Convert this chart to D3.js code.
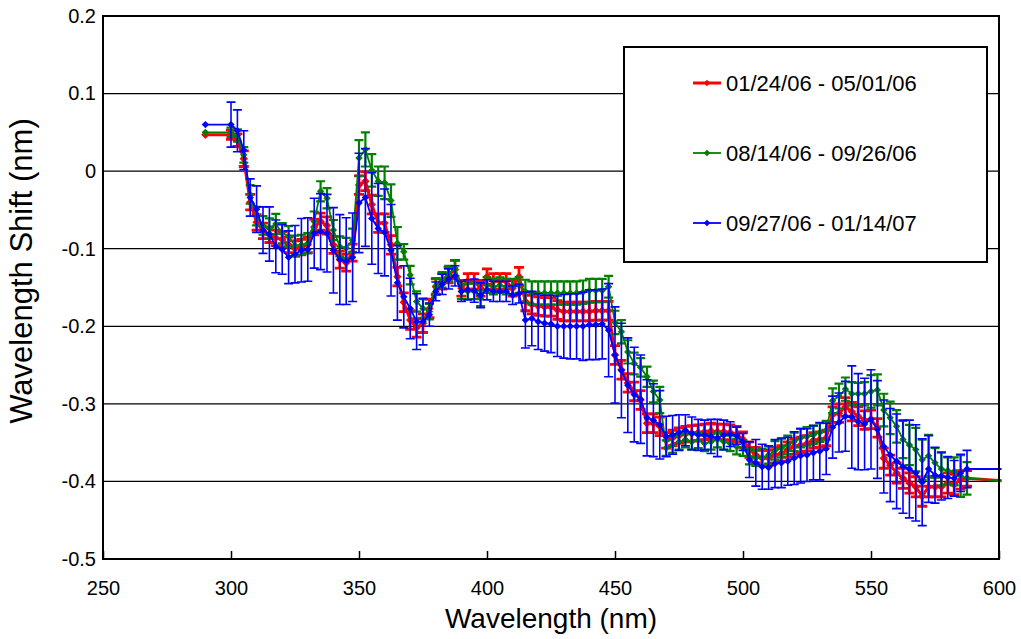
<!DOCTYPE html>
<html><head><meta charset="utf-8">
<script src="https://cdn.jsdelivr.net/npm/d3@7"></script>
<style>body{margin:0;background:#fff}svg{display:block}text{font-family:"Liberation Sans",Arial,sans-serif}</style>
</head><body>
<svg id="c" width="1021" height="639"></svg>
<script>
const wavelengths = [
 290, 300, 302.5, 305, 307.5, 310, 312.5, 315, 317.5, 320,
 322.5, 325, 327.5, 330, 332.5, 335, 337.5, 340, 342.5, 345,
 347.5, 350, 352.5, 355, 357.5, 360, 362.5, 365, 367.5, 370,
 372.5, 375, 377.5, 380, 382.5, 385, 387.5, 390, 392.5, 395,
 397.5, 400, 402.5, 405, 407.5, 410, 412.5, 415, 417.5, 420,
 422.5, 425, 427.5, 430, 432.5, 435, 437.5, 440, 442.5, 445,
 447.5, 450, 452.5, 455, 457.5, 460, 462.5, 465, 467.5, 470,
 472.5, 475, 477.5, 480, 482.5, 485, 487.5, 490, 492.5, 495,
 497.5, 500, 502.5, 505, 507.5, 510, 512.5, 515, 517.5, 520,
 522.5, 525, 527.5, 530, 532.5, 535, 537.5, 540, 542.5, 545,
 547.5, 550, 552.5, 555, 557.5, 560, 562.5, 565, 567.5, 570,
 572.5, 575, 577.5, 580, 582.5, 585, 587.5, 601];

const redValues = [
 0.047, 0.047, 0.040, 0.016, -0.040, -0.066, -0.077, -0.082, -0.086, -0.088,
 -0.095, -0.100, -0.098, -0.095, -0.072, -0.065, -0.070, -0.095, -0.114, -0.118,
 -0.105, -0.018, -0.013, -0.043, -0.067, -0.067, -0.095, -0.136, -0.169, -0.192,
 -0.202, -0.196, -0.177, -0.149, -0.142, -0.134, -0.127, -0.151, -0.142, -0.142,
 -0.151, -0.136, -0.142, -0.142, -0.142, -0.151, -0.136, -0.168, -0.172, -0.174,
 -0.175, -0.175, -0.179, -0.181, -0.181, -0.181, -0.181, -0.181, -0.180, -0.180,
 -0.180, -0.237, -0.256, -0.273, -0.284, -0.295, -0.325, -0.325, -0.329, -0.347,
 -0.344, -0.341, -0.339, -0.338, -0.337, -0.336, -0.335, -0.336, -0.336, -0.337,
 -0.339, -0.346, -0.359, -0.366, -0.370, -0.370, -0.366, -0.364, -0.359, -0.355,
 -0.353, -0.351, -0.347, -0.346, -0.344, -0.314, -0.312, -0.304, -0.310, -0.316,
 -0.321, -0.320, -0.331, -0.370, -0.379, -0.389, -0.396, -0.402, -0.407, -0.419,
 -0.407, -0.407, -0.407, -0.402, -0.404, -0.398, -0.396, -0.399];
const redErrors = [
 0, .006, .008, .010, .010, .010, .010, .010, .010, .010,
 .010, .010, .010, .010, .010, .011, .011, .011, .011, .011,
 .011, .012, .012, .012, .012, .012, .012, .012, .012, .012,
 .012, .012, .012, .010, .010, .010, .012, .010, .010, .010,
 .010, .010, .010, .010, .010, .010, .012, .012, .012, .012,
 .012, .012, .012, .012, .012, .012, .012, .012, .012, .012,
 .012, .012, .012, .012, .012, .012, .012, .012, .012, .010,
 .010, .010, .010, .010, .010, .010, .010, .010, .010, .010,
 .010, .010, .010, .010, .010, .010, .010, .010, .010, .010,
 .010, .010, .010, .010, .010, .010, .012, .012, .012, .012,
 .012, .012, .012, .013, .013, .013, .013, .013, .013, .013,
 .013, .013, .013, .013, .013, .012, .010, 0];

const greenValues = [
 0.050, 0.050, 0.046, 0.021, -0.030, -0.058, -0.070, -0.074, -0.068, -0.080,
 -0.084, -0.096, -0.095, -0.093, -0.065, -0.026, -0.035, -0.076, -0.097, -0.099,
 -0.089, 0.017, 0.028, 0.001, -0.013, -0.015, -0.038, -0.093, -0.104, -0.134,
 -0.168, -0.177, -0.181, -0.148, -0.140, -0.132, -0.125, -0.155, -0.155, -0.155,
 -0.164, -0.147, -0.149, -0.147, -0.149, -0.149, -0.147, -0.155, -0.157, -0.157,
 -0.157, -0.157, -0.157, -0.157, -0.157, -0.157, -0.156, -0.154, -0.154, -0.154,
 -0.149, -0.195, -0.207, -0.233, -0.248, -0.253, -0.265, -0.284, -0.295, -0.357,
 -0.353, -0.349, -0.346, -0.349, -0.347, -0.351, -0.349, -0.346, -0.349, -0.351,
 -0.355, -0.357, -0.368, -0.370, -0.369, -0.366, -0.360, -0.357, -0.353, -0.349,
 -0.344, -0.342, -0.340, -0.337, -0.334, -0.296, -0.290, -0.281, -0.287, -0.287,
 -0.287, -0.284, -0.282, -0.308, -0.318, -0.329, -0.346, -0.353, -0.359, -0.372,
 -0.367, -0.376, -0.384, -0.386, -0.387, -0.393, -0.396, -0.399];
const greenErrors = [
 0, .006, .008, .010, .012, .012, .012, .013, .013, .013,
 .013, .013, .013, .013, .013, .013, .013, .013, .013, .013,
 .015, .023, .022, .021, .019, .021, .021, .021, .010, .012,
 .013, .012, .010, .010, .010, .010, .010, .010, .010, .010,
 .010, .010, .010, .010, .010, .010, .010, .015, .015, .015,
 .015, .015, .015, .015, .015, .015, .015, .015, .015, .015,
 .014, .015, .015, .015, .014, .012, .013, .014, .017, .010,
 .010, .010, .010, .010, .010, .010, .010, .010, .010, .010,
 .010, .010, .010, .010, .011, .011, .012, .012, .012, .012,
 .012, .012, .012, .012, .012, .016, .016, .015, .015, .014,
 .015, .021, .020, .021, .021, .021, .024, .026, .028, .026,
 .027, .019, .021, .017, .018, .027, .021, 0];

const blueValues = [
 0.060, 0.060, 0.052, 0.027, -0.034, -0.049, -0.076, -0.081, -0.097, -0.101,
 -0.111, -0.107, -0.102, -0.101, -0.080, -0.078, -0.080, -0.102, -0.114, -0.116,
 -0.111, -0.041, -0.034, -0.061, -0.074, -0.079, -0.102, -0.144, -0.162, -0.177,
 -0.194, -0.194, -0.185, -0.155, -0.146, -0.139, -0.135, -0.155, -0.153, -0.154,
 -0.160, -0.153, -0.155, -0.155, -0.155, -0.160, -0.158, -0.192, -0.190, -0.194,
 -0.196, -0.197, -0.200, -0.200, -0.200, -0.200, -0.200, -0.198, -0.198, -0.197,
 -0.205, -0.237, -0.257, -0.276, -0.288, -0.294, -0.318, -0.321, -0.327, -0.342,
 -0.340, -0.337, -0.334, -0.338, -0.340, -0.340, -0.342, -0.344, -0.340, -0.339,
 -0.341, -0.349, -0.372, -0.376, -0.381, -0.382, -0.377, -0.376, -0.374, -0.370,
 -0.367, -0.366, -0.363, -0.361, -0.358, -0.330, -0.324, -0.316, -0.317, -0.323,
 -0.326, -0.320, -0.333, -0.355, -0.366, -0.374, -0.381, -0.384, -0.389, -0.401,
 -0.384, -0.392, -0.393, -0.395, -0.396, -0.389, -0.384, -0.384];
const blueErrors = [
 0, .029, .027, .025, .024, .030, .030, .035, .034, .032,
 .034, .037, .041, .041, .045, .049, .050, .055, .058, .056,
 .057, .064, .063, .059, .058, .056, .059, .048, .040, .039,
 .036, .030, .015, .012, .013, .013, .013, .013, .013, .015,
 .016, .013, .013, .013, .013, .012, .012, .036, .035, .036,
 .036, .037, .039, .041, .042, .042, .044, .045, .045, .045,
 .060, .062, .061, .061, .061, .057, .049, .047, .044, .026,
 .025, .023, .020, .021, .020, .019, .022, .024, .019, .016,
 .011, .011, .023, .030, .029, .028, .031, .032, .031, .034,
 .035, .034, .035, .037, .033, .040, .038, .045, .066, .062,
 .059, .064, .063, .060, .060, .061, .060, .063, .062, .056,
 .043, .036, .031, .027, .023, .024, .024, 0];

const seriesNames = ["01/24/06 - 05/01/06", "08/14/06 - 09/26/06", "09/27/06 - 01/14/07"];
const xTicks = [250, 300, 350, 400, 450, 500, 550, 600];
const yTicks = [0.2, 0.1, 0, -0.1, -0.2, -0.3, -0.4, -0.5];

const series = [
  {name: seriesNames[0], values: redValues, errors: redErrors, color: "#ff0000", lw: 3, ew: 2.8, cap: 5, r: 4.2},
  {name: seriesNames[1], values: greenValues, errors: greenErrors, color: "#008000", lw: 1.8, ew: 2.2, cap: 4.5, r: 3.7},
  {name: seriesNames[2], values: blueValues, errors: blueErrors, color: "#0000ff", lw: 1.8, ew: 1.6, cap: 4.5, r: 3.7}
];

const svg = d3.select("#c");
const L = 103, R = 999, T = 16, B = 559;
const x = d3.scaleLinear().domain([250, 600]).range([L, R]);
const y = d3.scaleLinear().domain([-0.5, 0.2]).range([B, T]);

svg.append("g").selectAll("line").data(yTicks.filter(v => v < 0.2 && v > -0.5)).join("line")
  .attr("x1", L).attr("x2", R).attr("y1", d => y(d)).attr("y2", d => y(d))
  .attr("stroke", "#000").attr("stroke-width", 1.2);

const diamond = {draw(ctx, size){ const r = Math.sqrt(size / 2); ctx.moveTo(0, -r); ctx.lineTo(r, 0); ctx.lineTo(0, r); ctx.lineTo(-r, 0); ctx.closePath(); }};

svg.append("defs").append("clipPath").attr("id", "pc").append("rect")
  .attr("x", L - 10).attr("y", T - 10).attr("width", R - L + 13).attr("height", B - T + 20);

const plot = svg.append("g").attr("clip-path", "url(#pc)");
series.forEach(s => {
  const pts = wavelengths.map((w, i) => ({w, v: s.values[i], e: s.errors[i], last: i === wavelengths.length - 1}));
  const g = plot.append("g");
  const eb = g.append("g").attr("stroke", s.color).attr("stroke-width", s.ew).attr("fill", "none");
  pts.filter(p => p.e > 0).forEach(p => {
    const px = x(p.w), y1 = y(p.v + p.e), y2 = y(p.v - p.e);
    eb.append("path").attr("d", `M${px},${y1}V${y2}M${px - s.cap},${y1}H${px + s.cap}M${px - s.cap},${y2}H${px + s.cap}`);
  });
  g.append("path").datum(pts).attr("fill", "none").attr("stroke", s.color).attr("stroke-width", s.lw)
    .attr("stroke-linejoin", "round")
    .attr("d", d3.line().x(p => x(p.w)).y(p => y(p.v)));
  g.append("g").selectAll("path").data(pts.filter(p => !p.last)).join("path")
    .attr("transform", p => `translate(${x(p.w)},${y(p.v)})`)
    .attr("d", d3.symbol().type(diamond).size(2 * s.r * s.r)).attr("fill", s.color);
});

svg.append("rect").attr("x", L).attr("y", T).attr("width", R - L).attr("height", B - T)
  .attr("fill", "none").attr("stroke", "#000").attr("stroke-width", 2);

const xa = svg.append("g").attr("transform", `translate(0,${B})`)
  .call(d3.axisBottom(x).tickValues(xTicks).tickSize(-8).tickPadding(22).tickFormat(d3.format("d")));
xa.select(".domain").remove();
xa.selectAll(".tick line").attr("stroke", "#000").attr("stroke-width", 1.5);
xa.selectAll("text").attr("font-size", 20).attr("fill", "#000").attr("font-family", "Liberation Sans, Arial, sans-serif");

const ya = svg.append("g").attr("transform", `translate(${L},0)`)
  .call(d3.axisLeft(y).tickValues(yTicks).tickSize(0).tickPadding(7).tickFormat(d => d === 0 ? "0" : d.toFixed(1)));
ya.select(".domain").remove();
ya.selectAll("text").attr("font-size", 20).attr("fill", "#000").attr("font-family", "Liberation Sans, Arial, sans-serif");

svg.append("text").attr("x", (L + R) / 2).attr("y", 628).attr("text-anchor", "middle")
  .attr("font-size", 28).text("Wavelength (nm)");
svg.append("text").attr("transform", "translate(32,271) rotate(-90)").attr("text-anchor", "middle")
  .attr("font-size", 31).text("Wavelength Shift (nm)");

const lg = svg.append("g");
lg.append("rect").attr("x", 624).attr("y", 47).attr("width", 363).attr("height", 215)
  .attr("fill", "#fff").attr("stroke", "#000").attr("stroke-width", 2);
const rows = [83, 153, 223];
series.forEach((s, i) => {
  const cy = rows[i];
  lg.append("line").attr("x1", 693).attr("x2", 721).attr("y1", cy).attr("y2", cy)
    .attr("stroke", s.color).attr("stroke-width", s.lw);
  lg.append("path").attr("transform", `translate(707,${cy})`).attr("d", d3.symbol().type(diamond).size(2 * 3.3 * 3.3)).attr("fill", s.color);
  lg.append("text").attr("x", 726).attr("y", cy + 8).attr("font-size", 22).text(s.name);
});
</script>
</body></html>
